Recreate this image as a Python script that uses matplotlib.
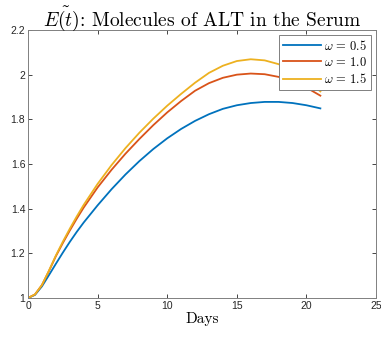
import matplotlib
matplotlib.use("Agg")
import matplotlib.pyplot as plt

plt.rcParams['mathtext.fontset'] = 'cm'

days = [0, 0.5, 1, 1.5, 2, 2.5, 3, 3.5, 4, 5, 6, 7, 8, 9, 10, 11, 12, 13, 14, 15, 16, 17, 18, 19, 20, 21]
e_w05 = [1.000, 1.014, 1.052, 1.102, 1.153, 1.203, 1.251, 1.296, 1.338, 1.415, 1.487, 1.553, 1.613,
         1.667, 1.715, 1.757, 1.793, 1.823, 1.847, 1.863, 1.873, 1.878, 1.878, 1.873, 1.863, 1.849]
e_w10 = [1.000, 1.016, 1.058, 1.120, 1.187, 1.246, 1.302, 1.355, 1.405, 1.495, 1.574, 1.646, 1.712,
         1.774, 1.831, 1.882, 1.928, 1.962, 1.986, 2.000, 2.005, 2.002, 1.990, 1.970, 1.942, 1.906]
e_w15 = [1.000, 1.016, 1.058, 1.122, 1.190, 1.252, 1.310, 1.365, 1.417, 1.511, 1.595, 1.671, 1.740,
         1.803, 1.861, 1.914, 1.964, 2.008, 2.040, 2.061, 2.069, 2.064, 2.047, 2.018, 1.977, 1.925]
labels = [r'$\omega\,=\,0.5$', r'$\omega\,=\,1.0$', r'$\omega\,=\,1.5$']
colors = ['#0072BD', '#D95319', '#EDB120']

fig = plt.figure(figsize=(3.81, 3.37), dpi=100)
ax = fig.add_axes([0.0735, 0.1157, 0.9135, 0.7953])

for y, lab, c in zip([e_w05, e_w10, e_w15], labels, colors):
    ax.plot(days, y, color=c, lw=1.3, label=lab)

ax.set_xlim(0, 25)
ax.set_ylim(1, 2.2)
ax.set_xticks([0, 5, 10, 15, 20, 25])
ax.set_yticks([1, 1.2, 1.4, 1.6, 1.8, 2, 2.2])
ax.set_yticklabels(['1', '1.2', '1.4', '1.6', '1.8', '2', '2.2'])
ax.tick_params(direction='in', top=True, right=True, length=3, width=0.6,
               colors='#262626', labelsize=7.5, pad=2)
for lab in ax.get_xticklabels() + ax.get_yticklabels():
    lab.set_fontfamily('Liberation Sans')
for s in ax.spines.values():
    s.set_color('#808080')
    s.set_linewidth(0.7)

ax.set_title(r'$\tilde{E(t)}$: Molecules of ALT in the Serum', fontfamily='cmr10',
             fontsize=14, pad=3)
ax.set_xlabel('Days', fontfamily='cmr10', fontsize=11, labelpad=1)

leg = ax.legend(loc='upper right', fontsize=9, handlelength=3.0, handletextpad=0.3,
                borderpad=0.3, labelspacing=0.25, fancybox=False, framealpha=1,
                borderaxespad=0.4)
leg.get_frame().set_edgecolor('#808080')
leg.get_frame().set_linewidth(0.7)

fig.savefig('out.png', dpi=100)
